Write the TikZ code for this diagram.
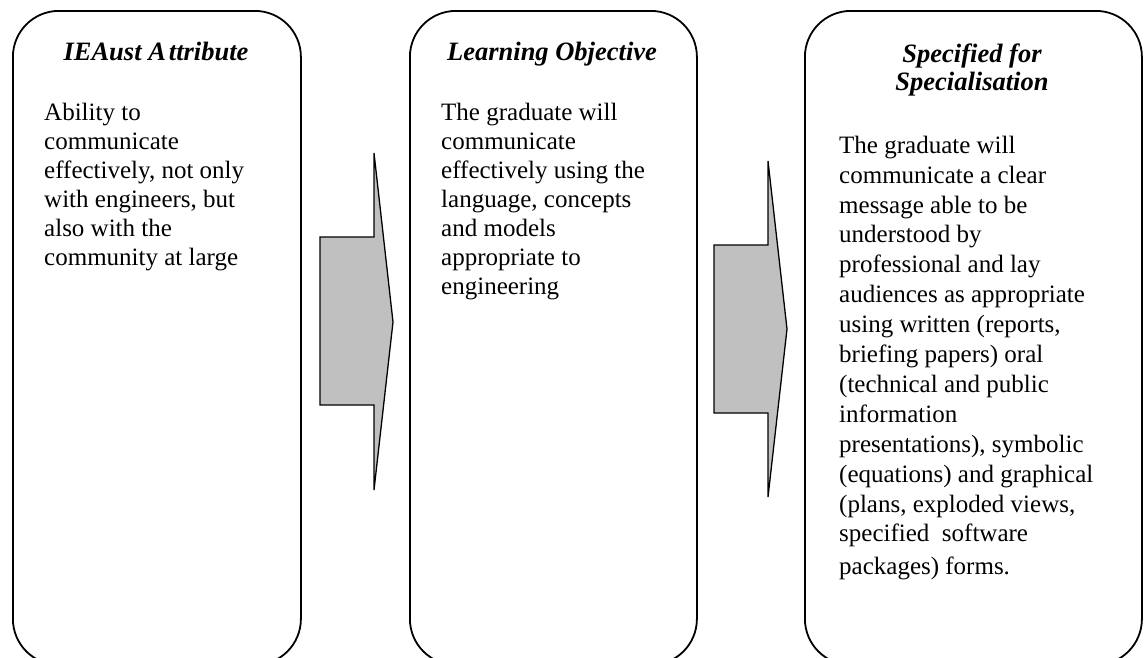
\documentclass[tikz,border=0pt]{standalone}
\usepackage{fontspec}
\setmainfont{Liberation Serif}
\begin{document}
\begin{tikzpicture}[x=1pt,y=-1pt,
  panel/.style={draw=black,line width=1.8pt,rounded corners=46pt,minimum height=654pt,anchor=north west,inner sep=0pt},
  blockarrow/.style={draw=black,fill=arrowgray,line width=1.3pt,line join=miter},
  heading/.style={font=\fontsize{26.5}{28}\selectfont\bfseries\itshape,align=center,anchor=north,inner sep=0pt},
  bodytext/.style={font=\fontsize{25}{#1}\selectfont,align=left,anchor=north west,inner sep=0pt},
]
\definecolor{arrowgray}{HTML}{C0C0C0}
\useasboundingbox (0,0) rectangle (1147,657);
\clip (0,0) rectangle (1147,657);

% three panels, running past the lower edge
\node[panel,minimum width=288pt] (attr) at (12,10) {};
\node[panel,minimum width=287pt] (obj) at (409,10) {};
\node[panel,minimum width=337pt] (spec) at (804,10) {};

% block arrows between the panels
\draw[blockarrow] (320,237) -- (374,237) -- (374,153) -- (393,322) -- (374,490) -- (374,405) -- (320,405) -- cycle;
\draw[blockarrow] (714,245) -- (768,245) -- (768,161) -- (787,329) -- (768,497) -- (768,413) -- (714,413) -- cycle;

% headings
\node[heading] (attrhead) at (156,40) {\rule{0pt}{20pt}IEAust A\kern3pt ttribute};
\node[heading] (objhead) at (552,40) {\rule{0pt}{20pt}Learning Objective};
\node[heading] (spechead) at (972,42) {\rule{0pt}{20pt}Specified for\\Specialisation};

% body texts
\node[bodytext=29] (attrtext) at (44,100) {\rule{0pt}{20pt}Ability to\\
communicate\\
effectively, not only\\
with engineers, but\\
also with the\\
community at large};

\node[bodytext=29] (objtext) at (441,100) {\rule{0pt}{20pt}The graduate will\\
communicate\\
effectively using the\\
language, concepts\\
and models\\
appropriate to\\
engineering};

\node[bodytext=29.9] (spectext) at (839,133) {\rule{0pt}{20pt}The graduate will\\
communicate a clear\\
message able to be\\
understood by\\
professional and lay\\
audiences as appropriate\\
using written (reports,\\
briefing papers) oral\\
(technical and public\\
information\\
presentations), symbolic\\
(equations) and graphical\\
(plans, exploded views,\\
specified\ \ software\\[3pt]
packages) forms.};
\end{tikzpicture}
\end{document}
